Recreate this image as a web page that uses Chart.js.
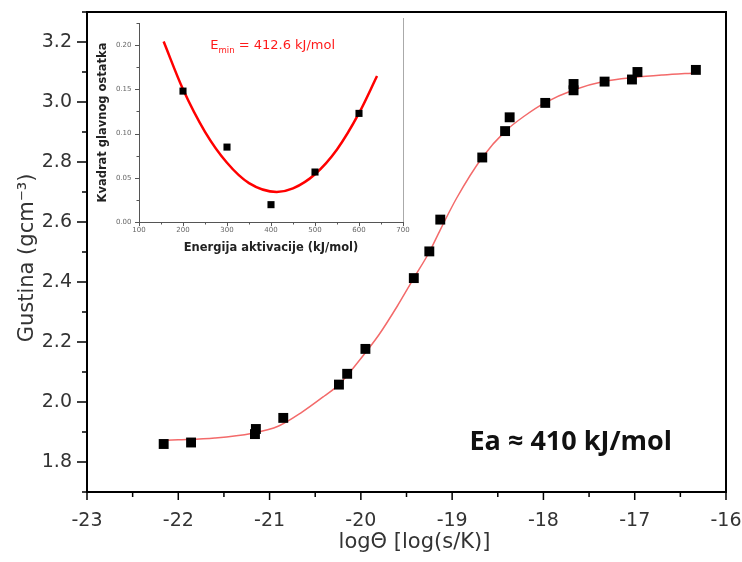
<!DOCTYPE html>
<html><head><meta charset="utf-8">
<script src="https://cdn.jsdelivr.net/npm/chart.js@4.4.0/dist/chart.umd.min.js"></script>
<style>
html,body{margin:0;padding:0;background:#fff;}
#wrap{position:relative;width:742px;height:562px;background:#fff;}
#main{position:absolute;left:0;top:0;}
#inset{position:absolute;left:90px;top:14px;}
</style></head><body>
<div id="wrap"><canvas id="main" width="742" height="562"></canvas><canvas id="inset" width="325" height="250"></canvas></div>
<script>
// ---- main chart data ----
const logTheta = [-22.16,-21.86,-21.15,-21.16,-20.85,-20.24,-20.15,-19.95,-19.42,-19.25,-19.13,-18.67,-18.42,-18.37,-17.98,-17.67,-17.67,-17.33,-17.03,-16.97,-16.33];
const density  = [1.860,1.865,1.910,1.893,1.947,2.058,2.094,2.177,2.413,2.502,2.608,2.815,2.903,2.949,2.997,3.039,3.060,3.068,3.075,3.100,3.107];
const fitX = [-22.2,-22.0,-21.6,-21.2,-20.9,-20.66,-20.4,-20.24,-20.0,-19.8,-19.6,-19.42,-19.25,-19.13,-18.95,-18.67,-18.42,-18.2,-17.98,-17.67,-17.33,-17.0,-16.69,-16.33];
const fitY = [1.872,1.874,1.880,1.895,1.920,1.963,2.020,2.058,2.145,2.225,2.320,2.413,2.500,2.574,2.680,2.815,2.902,2.955,2.998,3.040,3.069,3.082,3.090,3.097];
const xTicks = [-23,-22,-21,-20,-19,-18,-17,-16];
const yTicks = [1.8,2.0,2.2,2.4,2.6,2.8,3.0,3.2];
const xTitle = 'logΘ [log(s/K)]';
const yTitle = 'Gustina (gcm⁻³)';
const eaLabel = 'Ea ≈ 410 kJ/mol';
const eaAnchor = [-18.81, 1.864];

// ---- inset data ----
const energy   = [200,300,400,500,600];
const residual = [0.148,0.0847,0.0196,0.0565,0.1228];
const parX = [156,200,250,300,350,413,450,500,550,600,641];
const parY = [0.204,0.150,0.102,0.067,0.044,0.034,0.038,0.054,0.082,0.123,0.165];
const insetXTicks = [100,200,300,400,500,600,700];
const insetYTicks = [0,0.05,0.10,0.15,0.20];
const insetXTitle = 'Energija aktivacije (kJ/mol)';
const insetYTitle = 'Kvadrat glavnog ostatka';
const eminAnchor = [262, 0.199];

const FAM = "'DejaVu Sans', sans-serif";

function mids(arr){const r=[];for(let i=0;i<arr.length-1;i++)r.push((arr[i]+arr[i+1])/2);return r;}
function noPad(s){s.paddingTop=0;s.paddingBottom=0;s.paddingLeft=0;s.paddingRight=0;}

const mainDeco = {
  id:'mainDeco',
  afterDraw(chart){
    const {ctx, chartArea:a, scales:{x,y}} = chart;
    ctx.save();
    ctx.strokeStyle='#000';
    ctx.lineWidth=2;
    ctx.beginPath();
    ctx.moveTo(a.left,a.top);ctx.lineTo(a.right,a.top);ctx.lineTo(a.right,a.bottom);
    ctx.stroke();
    ctx.lineWidth=1.5;
    ctx.beginPath();
    yTicks.forEach(v=>{const p=y.getPixelForValue(v);ctx.moveTo(a.left-10,p);ctx.lineTo(a.left,p);});
    mids(yTicks).concat([yTicks[0]-0.1,yTicks[yTicks.length-1]+0.1]).forEach(v=>{const p=y.getPixelForValue(v);ctx.moveTo(a.left-5,p);ctx.lineTo(a.left,p);});
    xTicks.forEach(v=>{const p=x.getPixelForValue(v);ctx.moveTo(p,a.bottom);ctx.lineTo(p,a.bottom+8);});
    mids(xTicks).forEach(v=>{const p=x.getPixelForValue(v);ctx.moveTo(p,a.bottom);ctx.lineTo(p,a.bottom+5);});
    ctx.stroke();
    // axis titles
    ctx.fillStyle='#333';
    ctx.font="21px "+FAM;
    ctx.textAlign='center';ctx.textBaseline='middle';
    ctx.fillText(xTitle,(a.left+a.right)/2+8,a.bottom+51);
    ctx.save();
    ctx.translate(28,(a.top+a.bottom)/2+6);
    ctx.rotate(-Math.PI/2);
    ctx.fillText(yTitle,0,0);
    ctx.restore();
    // annotation
    ctx.fillStyle='#111';
    ctx.font="bold 27px 'Open Sans', sans-serif";
    ctx.textAlign='left';
    ctx.fillText(eaLabel, x.getPixelForValue(eaAnchor[0]), y.getPixelForValue(eaAnchor[1]));
    ctx.restore();
  }
};

new Chart(document.getElementById('main'), {
  type:'scatter',
  data:{datasets:[
    {data: logTheta.map((v,i)=>({x:v,y:density[i]})), pointStyle:'rect', pointRadius:7, backgroundColor:'#000', borderColor:'#000', borderWidth:0, order:0},
    {data: fitX.map((v,i)=>({x:v,y:fitY[i]})), showLine:true, borderColor:'#f36a6a', borderWidth:1.5, pointRadius:0, cubicInterpolationMode:'monotone', fill:false, order:1}
  ]},
  options:{
    responsive:false, animation:false, events:[],
    layout:{padding:{top:12,right:16,left:0,bottom:0}},
    plugins:{legend:{display:false},tooltip:{enabled:false}},
    scales:{
      x:{type:'linear',min:-23,max:-16,
        afterBuildTicks:s=>{s.ticks=xTicks.map(v=>({value:v}));},
        afterFit:s=>{s.height=70;noPad(s);},
        grid:{display:false,drawTicks:false}, border:{display:true,color:'#000',width:2},
        ticks:{padding:18,color:'#333',font:{family:FAM,size:19},callback:v=>String(v),maxRotation:0,autoSkip:false},
        title:{display:false}},
      y:{type:'linear',min:1.7,max:3.3,
        afterBuildTicks:s=>{s.ticks=yTicks.map(v=>({value:v}));},
        afterFit:s=>{s.width=87;noPad(s);},
        grid:{display:false,drawTicks:false}, border:{display:true,color:'#000',width:2},
        ticks:{padding:15,color:'#333',font:{family:FAM,size:19},callback:v=>Number(v).toFixed(1),autoSkip:false},
        title:{display:false}}
    }
  },
  plugins:[mainDeco]
});

const insetDeco = {
  id:'insetDeco',
  afterDraw(chart){
    const {ctx, chartArea:a, scales:{x,y}} = chart;
    ctx.save();
    ctx.strokeStyle='#555';
    ctx.lineWidth=1;
    ctx.beginPath();
    insetYTicks.forEach(v=>{const p=Math.round(y.getPixelForValue(v))+0.5;ctx.moveTo(a.left-4,p);ctx.lineTo(a.left,p);});
    mids(insetYTicks).concat([insetYTicks[insetYTicks.length-1]+0.025]).forEach(v=>{const p=Math.round(y.getPixelForValue(v))+0.5;ctx.moveTo(a.left-2.5,p);ctx.lineTo(a.left,p);});
    insetXTicks.forEach(v=>{const p=Math.round(x.getPixelForValue(v))+0.5;ctx.moveTo(p,a.bottom);ctx.lineTo(p,a.bottom+4);});
    mids(insetXTicks).forEach(v=>{const p=Math.round(x.getPixelForValue(v))+0.5;ctx.moveTo(p,a.bottom);ctx.lineTo(p,a.bottom+2.5);});
    ctx.stroke();
    ctx.strokeStyle='#aaa';
    ctx.beginPath();
    const rx=Math.round(a.right)+0.5;
    ctx.moveTo(rx,a.top-5);ctx.lineTo(rx,a.bottom);
    ctx.stroke();
    // E_min label
    ctx.fillStyle='#ff1a1a';
    ctx.textBaseline='middle';ctx.textAlign='left';
    let px=x.getPixelForValue(eminAnchor[0]); const py=y.getPixelForValue(eminAnchor[1]);
    ctx.font="13px "+FAM; ctx.fillText('E',px,py); px+=ctx.measureText('E').width;
    ctx.font="8.5px "+FAM; ctx.fillText('min',px,py+4.5); px+=ctx.measureText('min').width;
    ctx.font="13px "+FAM; ctx.fillText(' = 412.6 kJ/mol',px,py);
    ctx.restore();
  }
};

new Chart(document.getElementById('inset'), {
  type:'scatter',
  data:{datasets:[
    {data: energy.map((v,i)=>({x:v,y:residual[i]})), pointStyle:'rect', pointRadius:5, backgroundColor:'#000', borderColor:'#000', borderWidth:0, order:0},
    {data: parX.map((v,i)=>({x:v,y:parY[i]})), showLine:true, borderColor:'#ff0000', borderWidth:2.5, pointRadius:0, cubicInterpolationMode:'monotone', fill:false, order:1}
  ]},
  options:{
    responsive:false, animation:false, events:[],
    layout:{padding:{top:9,right:12,left:0,bottom:0}},
    plugins:{legend:{display:false},tooltip:{enabled:false}},
    scales:{
      x:{type:'linear',min:100,max:700,
        afterBuildTicks:s=>{s.ticks=insetXTicks.map(v=>({value:v}));},
        afterFit:s=>{s.height=42;noPad(s);},
        grid:{display:false,drawTicks:false}, border:{display:true,color:'#555',width:1},
        ticks:{padding:4,color:'#666',font:{family:FAM,size:7},callback:v=>String(v),maxRotation:0,autoSkip:false},
        title:{display:true,text:insetXTitle,color:'#222',font:{family:FAM,size:11.5,weight:'bold'},padding:{top:0,bottom:9}}},
      y:{type:'linear',min:0,max:0.225,
        afterBuildTicks:s=>{s.ticks=insetYTicks.map(v=>({value:v}));},
        afterFit:s=>{s.width=49;noPad(s);},
        grid:{display:false,drawTicks:false}, border:{display:true,color:'#555',width:1},
        ticks:{padding:7.5,color:'#666',font:{family:FAM,size:7},callback:v=>Number(v).toFixed(2),autoSkip:false},
        title:{display:true,text:insetYTitle,color:'#222',font:{family:FAM,size:11.5,weight:'bold'},padding:{top:6,bottom:0}}}
    }
  },
  plugins:[insetDeco]
});
</script>
</body></html>
